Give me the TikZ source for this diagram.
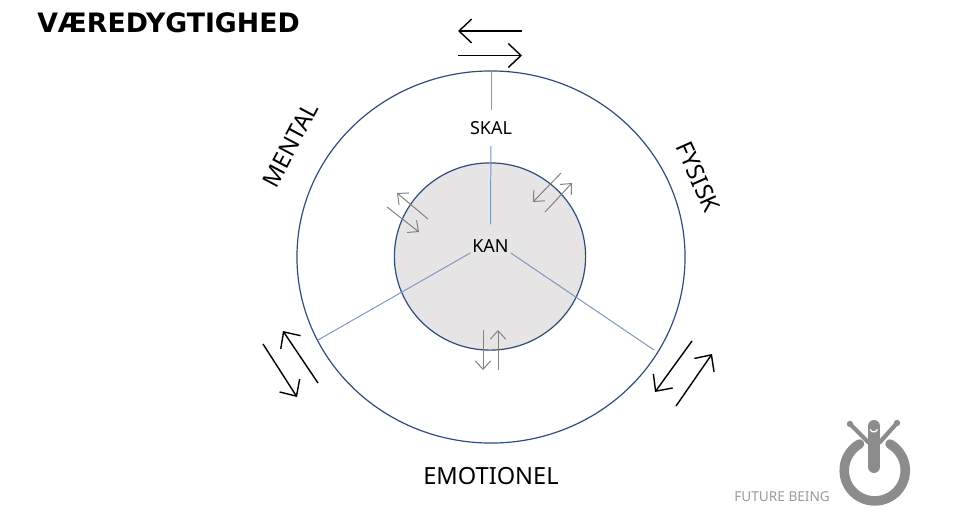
\documentclass[tikz,border=0pt]{standalone}
\usepackage{fontspec}
\setmainfont{Noto Sans}
\newfontfamily\titlefont{DejaVu Sans}
\usetikzlibrary{arrows.meta,shapes.geometric}
\definecolor{ringblue}{HTML}{2F4B7C}
\definecolor{spokeblue}{HTML}{7C98BC}
\definecolor{innergray}{HTML}{E6E4E5}
\definecolor{logogray}{HTML}{8C8C8C}

\begin{document}
\begin{tikzpicture}[x=0.025cm,y=-0.025cm,
        ring/.style={ellipse,draw=ringblue,line width=0.85pt,inner sep=0pt},
        spoke/.style={draw=spokeblue,line width=0.7pt},
        sidelabel/.style={font=\fontsize{16.8}{20}\selectfont,text=black},
        bigarrow/.style={draw=black,line width=1pt,-{Straight Barb[length=9pt,width=17pt,line width=1pt]}},
        smallarrow/.style={draw=black!50,line width=0.7pt,-{Straight Barb[length=6pt,width=11pt,line width=0.7pt]}}]

    \useasboundingbox (0,0) rectangle (980,514);

    \node[ring,minimum width=9.7cm,minimum height=9.3cm] (outer) at (491,257) {};
    \node[ring,fill=innergray,minimum width=4.78cm,minimum height=4.68cm] (inner) at (490,256.5) {};

    \node[inner xsep=2pt,inner ysep=8pt,font=\fontsize{12.8}{14}\selectfont] (skal) at (491,128) {SKAL};
    \node[anchor=south,inner sep=0pt,minimum width=1cm,text height=0.7cm,text depth=0pt,font=\fontsize{12.8}{14}\selectfont] (kan) at (490.5,253) {KAN};

    \coordinate (spokeL) at (318,340);
    \coordinate (spokeR) at (654,350);

    \draw[spoke] (outer.north) -- (skal);
    \draw[spoke] (skal) -- (kan.north);
    \draw[spoke] (kan.south west) -- (spokeL);
    \draw[spoke] (kan.south east) -- (spokeR);

    % big arrows
    \coordinate (a1) at (522,31);   \coordinate (a2) at (458,31);
    \coordinate (b1) at (458,55.5); \coordinate (b2) at (522,55.5);
    \coordinate (c1) at (318,383);  \coordinate (c2) at (283,331);
    \coordinate (d1) at (263,344);  \coordinate (d2) at (297,397);
    \coordinate (e1) at (692,341);  \coordinate (e2) at (655,392);
    \coordinate (f1) at (676,406);  \coordinate (f2) at (712,354);
    \draw[bigarrow] (a1) -- (a2);
    \draw[bigarrow] (b1) -- (b2);
    \draw[bigarrow] (c1) -- (c2);
    \draw[bigarrow] (d1) -- (d2);
    \draw[bigarrow] (e1) -- (e2);
    \draw[bigarrow] (f1) -- (f2);

    % small arrows
    \coordinate (g1) at (561,173);  \coordinate (g2) at (533,202);
    \coordinate (h1) at (545,212);  \coordinate (h2) at (572,183);
    \coordinate (i1) at (428,219);  \coordinate (i2) at (397,193);
    \coordinate (j1) at (387,207);  \coordinate (j2) at (419,232);
    \coordinate (k1) at (483,330);  \coordinate (k2) at (483,370);
    \coordinate (l1) at (498,370);  \coordinate (l2) at (498,330);
    \draw[smallarrow] (g1) -- (g2);
    \draw[smallarrow] (h1) -- (h2);
    \draw[smallarrow] (i1) -- (i2);
    \draw[smallarrow] (j1) -- (j2);
    \draw[smallarrow] (k1) -- (k2);
    \draw[smallarrow] (l1) -- (l2);

    \node[font=\fontsize{19}{22}\titlefont\bfseries,anchor=west,inner sep=0pt] (title) at (37,23) {VÆREDYGTIGHED};
    \node[sidelabel,rotate=62] (mental) at (290,145) {MENTAL};
    \node[sidelabel,rotate=-66] (fysisk) at (698,177) {FYSISK};
    \node[sidelabel] (emotionel) at (491,476) {EMOTIONEL};
    \node[font=\fontsize{9.7}{11}\selectfont,text=black!40,anchor=west,inner sep=0pt] (future) at (734,497) {FUTURE BEING};

    % logo
    \draw[logogray,line width=6.8pt,line cap=round] (859.5,444) arc[start angle=240,end angle=-60,radius=30.5];
    \draw[logogray,line width=3pt,line cap=round] (850,424) -- (868,442) -- (880,442) -- (897,423);
    \draw[logogray,line width=8.5pt,line cap=round] (874,426) -- (874,467);
    \fill[logogray] (850,424) circle[radius=3.2];
    \fill[logogray] (897,423) circle[radius=3.2];
    \draw[white,line width=0.9pt] (870,429.4) arc[start angle=160,end angle=20,radius=4];

\end{tikzpicture}
\end{document}
